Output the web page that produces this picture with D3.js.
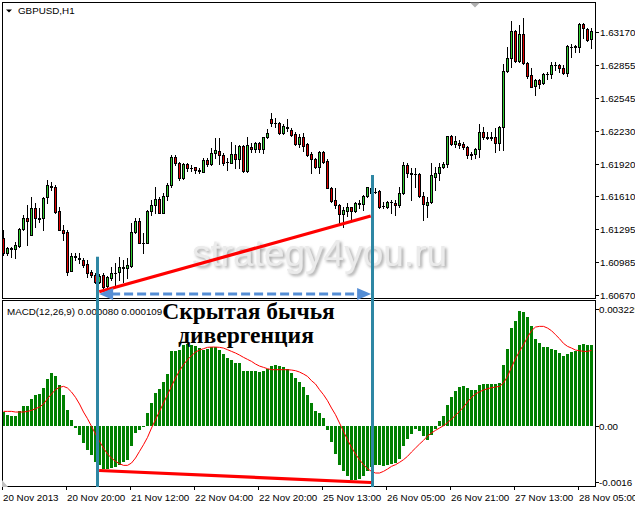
<!DOCTYPE html>
<html><head><meta charset="utf-8">
<script src="https://cdn.jsdelivr.net/npm/d3@7"></script>
<style>html,body{margin:0;padding:0;background:#fff;}svg{display:block;}</style>
</head><body><div id="chart"></div>
<script>
// ---- DATA (GBPUSD H1, 148 bars) ----
const opens = [1.61209,1.61066,1.61104,1.61104,1.61136,1.61294,1.61399,1.61241,1.61494,1.61399,1.61399,1.61605,1.61707,1.61700,1.61472,1.61288,1.61266,1.60901,1.61041,1.61019,
1.61003,1.60965,1.60892,1.60860,1.60797,1.60857,1.60756,1.60829,1.60882,1.60892,1.60933,1.60924,1.60946,1.61266,1.61377,1.61168,1.61161,1.61472,1.61526,1.61580,
1.61453,1.61611,1.61713,1.61979,1.61922,1.61780,1.61913,1.61881,1.61884,1.61846,1.61843,1.61954,1.61916,1.62024,1.62043,1.62001,1.61938,1.61928,1.62011,1.61960,
1.62087,1.61852,1.62081,1.62055,1.62112,1.62055,1.62169,1.62341,1.62309,1.62309,1.62207,1.62265,1.62239,1.62198,1.62103,1.62176,1.62103,1.62011,1.61960,1.61884,
1.62033,1.61944,1.61691,1.61573,1.61526,1.61437,1.61472,1.61504,1.61472,1.61542,1.61535,1.61611,1.61637,1.61653,1.61659,1.61516,1.61510,1.61551,1.61548,1.61526,
1.61637,1.61906,1.61827,1.61821,1.61821,1.61611,1.61526,1.61551,1.61795,1.61833,1.61890,1.61913,1.62182,1.62106,1.62119,1.62106,1.62081,1.62008,1.62008,1.62055,
1.62220,1.62169,1.62169,1.62169,1.62119,1.62265,1.62800,1.62921,1.63181,1.62899,1.63152,1.62873,1.62762,1.62658,1.62715,1.62683,1.62772,1.62772,1.62857,1.62857,
1.62826,1.62784,1.63032,1.63032,1.63032,1.63247,1.63196,1.63101];
const highs = [1.61288,1.61130,1.61130,1.61177,1.61304,1.61431,1.61526,1.61605,1.61542,1.61494,1.61605,1.61764,1.61748,1.61716,1.61510,1.61336,1.61288,1.61066,1.61066,1.61066,
1.61019,1.61003,1.60908,1.60876,1.60870,1.60876,1.60851,1.60939,1.60971,1.61035,1.61003,1.61019,1.61352,1.61399,1.61399,1.61256,1.61478,1.61573,1.61700,1.61605,
1.61637,1.61732,1.62001,1.62001,1.61938,1.61922,1.61922,1.61906,1.61890,1.61875,1.61970,1.61970,1.62065,1.62160,1.62160,1.62017,1.61970,1.62128,1.62096,1.62096,
1.62096,1.62176,1.62112,1.62128,1.62128,1.62176,1.62245,1.62398,1.62350,1.62318,1.62296,1.62341,1.62255,1.62223,1.62201,1.62214,1.62112,1.62033,1.61970,1.62036,
1.62043,1.61960,1.61700,1.61684,1.61535,1.61510,1.61542,1.61510,1.61558,1.61573,1.61621,1.61700,1.61700,1.61684,1.61669,1.61558,1.61567,1.61573,1.61573,1.61694,
1.61938,1.61922,1.61875,1.61875,1.61833,1.61653,1.61605,1.61922,1.61890,1.61922,1.61938,1.62185,1.62192,1.62182,1.62144,1.62128,1.62087,1.62033,1.62065,1.62296,
1.62265,1.62223,1.62223,1.62255,1.62277,1.62867,1.63032,1.63279,1.63190,1.63238,1.63304,1.62889,1.62826,1.62721,1.62721,1.62778,1.62794,1.62889,1.62889,1.62864,
1.62857,1.63048,1.63057,1.63048,1.63260,1.63260,1.63206,1.63206];
const lows = [1.61050,1.61050,1.61035,1.61019,1.61130,1.61288,1.61146,1.61241,1.61320,1.61367,1.61288,1.61542,1.61669,1.61447,1.61288,1.61193,1.60860,1.60901,1.61003,1.60971,
1.60939,1.60844,1.60844,1.60781,1.60781,1.60733,1.60749,1.60813,1.60749,1.60813,1.60797,1.60829,1.60939,1.61256,1.61161,1.61066,1.61161,1.61431,1.61447,1.61447,
1.61447,1.61573,1.61700,1.61906,1.61764,1.61770,1.61852,1.61852,1.61827,1.61827,1.61843,1.61897,1.61906,1.61970,1.61916,1.61906,1.61859,1.61922,1.61875,1.61875,
1.61843,1.61843,1.62033,1.62033,1.62033,1.62024,1.62160,1.62277,1.62265,1.62201,1.62201,1.62233,1.62182,1.62097,1.62081,1.62043,1.61995,1.61833,1.61875,1.61833,
1.61922,1.61684,1.61558,1.61494,1.61352,1.61320,1.61421,1.61383,1.61463,1.61494,1.61478,1.61605,1.61621,1.61637,1.61494,1.61494,1.61494,1.61447,1.61431,1.61510,
1.61630,1.61795,1.61573,1.61700,1.61605,1.61383,1.61409,1.61542,1.61669,1.61764,1.61875,1.61890,1.62097,1.62081,1.62065,1.62055,1.61970,1.61960,1.61970,1.61986,
1.62150,1.62150,1.62144,1.62033,1.62049,1.62049,1.62794,1.62841,1.62889,1.62889,1.62867,1.62731,1.62645,1.62572,1.62635,1.62677,1.62721,1.62731,1.62810,1.62794,
1.62772,1.62753,1.62930,1.62984,1.62984,1.63111,1.63089,1.63016];
const closes = [1.61066,1.61114,1.61114,1.61146,1.61294,1.61399,1.61377,1.61494,1.61399,1.61396,1.61589,1.61716,1.61700,1.61463,1.61288,1.61256,1.60892,1.61041,1.61035,1.61009,
1.60955,1.60882,1.60860,1.60797,1.60851,1.60749,1.60838,1.60876,1.60880,1.60939,1.60930,1.60955,1.61266,1.61377,1.61168,1.61165,1.61472,1.61526,1.61580,1.61453,
1.61611,1.61716,1.61979,1.61922,1.61780,1.61916,1.61875,1.61878,1.61859,1.61859,1.61954,1.61916,1.62024,1.62049,1.62001,1.61928,1.61935,1.62011,1.61960,1.62087,
1.61852,1.62093,1.62055,1.62119,1.62055,1.62169,1.62207,1.62309,1.62306,1.62207,1.62277,1.62262,1.62192,1.62103,1.62176,1.62087,1.62001,1.61960,1.61884,1.62033,
1.61938,1.61691,1.61567,1.61526,1.61437,1.61478,1.61504,1.61472,1.61542,1.61540,1.61611,1.61694,1.61684,1.61650,1.61504,1.61513,1.61558,1.61555,1.61526,1.61637,
1.61906,1.61833,1.61824,1.61818,1.61611,1.61535,1.61551,1.61811,1.61833,1.61890,1.61916,1.62182,1.62106,1.62131,1.62097,1.62074,1.61998,1.62005,1.62055,1.62220,
1.62169,1.62166,1.62166,1.62119,1.62271,1.62800,1.62921,1.63181,1.62899,1.63152,1.62873,1.62753,1.62651,1.62715,1.62677,1.62772,1.62769,1.62857,1.62854,1.62826,
1.62784,1.63038,1.63029,1.63035,1.63247,1.63206,1.63095,1.63181];

const macdHist = [0.000358,0.000287,0.000261,0.000243,0.000373,0.000522,0.000522,0.000697,0.000809,0.000827,0.000984,0.001227,0.001375,0.001287,0.001052,0.000809,0.000418,0.000157,-0.00006,-0.000235,
-0.000452,-0.000626,-0.000757,-0.000958,-0.001018,-0.00113,-0.001122,-0.001104,-0.001088,-0.001018,-0.000958,-0.000906,-0.00054,-0.000191,-0.000104,-0.000044,0.000331,0.000592,0.000853,0.000966,
0.001141,0.001357,0.001939,0.001958,0.001984,0.002114,0.002132,0.002096,0.00207,0.002028,0.001984,0.00201,0.002044,0.002044,0.001984,0.001871,0.001767,0.001704,0.001636,0.001636,
0.001436,0.001436,0.001436,0.001417,0.001402,0.001436,0.001488,0.001566,0.001592,0.001548,0.001522,0.001488,0.001375,0.001245,0.001141,0.001,0.000809,0.000592,0.000392,0.000331,
0.000201,-0.000104,-0.000436,-0.000739,-0.001018,-0.001193,-0.001305,-0.001409,-0.001409,-0.001383,-0.001323,-0.001175,-0.001088,-0.001018,-0.001036,-0.001062,-0.001036,-0.001,-0.000974,-0.000861,
-0.00054,-0.000339,-0.000209,-0.000078,-0.000149,-0.000279,-0.000365,-0.000235,-0.000078,0.000112,0.000243,0.000548,0.000739,0.000914,0.001,0.001026,0.000984,0.00094,0.00094,0.001052,
0.001088,0.001088,0.001088,0.001088,0.001115,0.001592,0.00201,0.00255,0.002723,0.003002,0.002968,0.002827,0.002592,0.002271,0.002159,0.002044,0.002044,0.00201,0.001984,0.001898,
0.001809,0.001871,0.001924,0.001958,0.002096,0.002132,0.002096,0.002096];
const macdSignal = [0.000374,0.000374,0.000374,0.000357,0.000357,0.000357,0.000374,0.0004,0.000444,0.000487,0.000566,0.000705,0.000827,0.00094,0.001,0.001027,0.000983,0.000879,0.00074,0.000566,
0.000357,0.000183,-0.000017,-0.000218,-0.000409,-0.000583,-0.00074,-0.000844,-0.000931,-0.000992,-0.001035,-0.001035,-0.000974,-0.000844,-0.00067,-0.000496,-0.000305,-0.000061,0.000157,0.000374,
0.000592,0.000809,0.001027,0.001244,0.001436,0.001592,0.001723,0.001827,0.001923,0.001975,0.00201,0.002045,0.002053,0.002053,0.002045,0.002027,0.001984,0.00194,0.001897,0.001844,
0.001784,0.001731,0.001679,0.00161,0.001557,0.001523,0.001488,0.001462,0.001462,0.001462,0.001462,0.001462,0.001453,0.001436,0.001401,0.001349,0.001288,0.001175,0.001088,0.00094,
0.000809,0.000653,0.000461,0.000287,0.00007,-0.000148,-0.000365,-0.000566,-0.00074,-0.000887,-0.001018,-0.001122,-0.001192,-0.001235,-0.001235,-0.001192,-0.001131,-0.001061,-0.001018,-0.000957,
-0.000887,-0.0008,-0.000687,-0.000583,-0.000479,-0.000383,-0.00027,-0.000191,-0.000122,-0.000061,0,0.000078,0.000174,0.00027,0.000374,0.000487,0.000618,0.00074,0.000827,0.000887,
0.000931,0.000966,0.000992,0.001009,0.001027,0.001114,0.001288,0.001523,0.001749,0.00194,0.002114,0.002306,0.00248,0.002575,0.002593,0.002593,0.002549,0.00248,0.002375,0.002271,
0.002149,0.002071,0.002027,0.001975,0.001958,0.00194,0.00194,0.001966];

const priceTicks = [1.63170,1.62855,1.62545,1.62230,1.61920,1.61610,1.61295,1.60985,1.60670];
const priceTickLabels = ["1.63170","1.62855","1.62545","1.62230","1.61920","1.61610","1.61295","1.60985","1.60670"];
const macdTicks = [0.003229, 0, -0.0016];
const macdTickLabels = ["0.003229","0.00","-0.0016"];
const timeLabels = ["20 Nov 2013","20 Nov 20:00","21 Nov 12:00","22 Nov 04:00","22 Nov 20:00","25 Nov 13:00","26 Nov 05:00","26 Nov 21:00","27 Nov 13:00","28 Nov 05:00"];
const timeLabelBars = [0,16,32,48,64,80,96,112,128,144];

// annotation anchors (bar index, value)
const divBars = [23.5, 92.25];
const divTopPrices = [1.61034, 1.61811];
const priceTrend = [[23.95, 1.60701],[91.8, 1.61421]];
const arrowSpan = [[23.9, 1.60680],[91.9, 1.60680]];
const macdTrend = [[23.9, -0.001169],[91.9, -0.001483]];

// ---- CHART ----
const W = 635, H = 506;
const P = {left:2.5, right:595.5, top:2.5, bottom:298.5};
const M = {top:300.5, bottom:486.5};
const svg = d3.select("#chart").append("svg").attr("width",W).attr("height",H)
  .style("font-family","'Liberation Sans', Arial, sans-serif");
svg.append("rect").attr("width",W).attr("height",H).attr("fill","#fff");

const x = d3.scaleLinear().domain([0,147]).range([3.5,591.5]);
const y = d3.scaleLinear().domain([1.6067,1.6317]).range([295,32.1]);
const yM = d3.scaleLinear().domain([-0.0016,0.003229]).range([487,302]);

const defs = svg.append("defs");
defs.append("clipPath").attr("id","cp").append("rect").attr("x",3).attr("y",3).attr("width",592).attr("height",295);
defs.append("clipPath").attr("id","cm").append("rect").attr("x",3).attr("y",301).attr("width",592).attr("height",185);
const f = defs.append("filter").attr("id","wm").attr("x","-10%").attr("y","-30%").attr("width","130%").attr("height","170%");
f.append("feGaussianBlur").attr("in","SourceAlpha").attr("stdDeviation",1.6).attr("result","b");
f.append("feOffset").attr("in","b").attr("dx",2).attr("dy",2).attr("result","o");
f.append("feFlood").attr("flood-color","#a8a8a8").attr("result","c");
f.append("feComposite").attr("in","c").attr("in2","o").attr("operator","in").attr("result","s");
const fm = f.append("feMerge");
fm.append("feMergeNode").attr("in","s");
fm.append("feMergeNode").attr("in","SourceGraphic");

// watermark
svg.append("text").attr("x",192).attr("y",266).attr("font-size",37)
  .attr("fill","#ebebeb").attr("filter","url(#wm)").text("strategy4you.ru");

// candles
const cg = svg.append("g").attr("clip-path","url(#cp)").attr("shape-rendering","crispEdges");
const idx = d3.range(opens.length);
cg.selectAll("line.wick").data(idx).join("line").attr("class","wick")
  .attr("x1",i=>x(i)).attr("x2",i=>x(i))
  .attr("y1",i=>Math.round(y(highs[i]))).attr("y2",i=>Math.round(y(lows[i]))+1)
  .attr("stroke","#000").attr("stroke-width",1);
idx.forEach(i=>{
  const bt = Math.round(y(Math.max(opens[i],closes[i])));
  const bb = Math.round(y(Math.min(opens[i],closes[i])));
  if (bb-bt < 1) {
    cg.append("line").attr("x1",x(i)-1.5).attr("x2",x(i)+1.5).attr("y1",bt+0.5).attr("y2",bt+0.5)
      .attr("stroke","#000").attr("stroke-width",1);
  } else {
    cg.append("rect").attr("x",x(i)-1).attr("y",bt+0.5).attr("width",2).attr("height",bb-bt)
      .attr("fill", closes[i]>=opens[i] ? "#32cd32" : "#e00000")
      .attr("stroke","#000").attr("stroke-width",1);
  }
});

// MACD histogram + signal
const mg = svg.append("g").attr("clip-path","url(#cm)");
const z = Math.round(yM(0));
mg.selectAll("rect").data(idx).join("rect")
  .attr("shape-rendering","crispEdges")
  .attr("x",i=>x(i)-1.5).attr("width",3)
  .attr("y",i=>Math.min(Math.round(yM(macdHist[i])),z))
  .attr("height",i=>Math.abs(Math.round(yM(macdHist[i]))-z))
  .attr("fill","#008000");
mg.append("path").datum(macdSignal)
  .attr("d",d3.line().x((d,i)=>x(i)).y(d=>yM(d)))
  .attr("fill","none").attr("stroke","#ff0000").attr("stroke-width",1);

// frames
svg.append("rect").attr("x",P.left).attr("y",P.top).attr("width",P.right-P.left).attr("height",P.bottom-P.top)
  .attr("fill","none").attr("stroke","#000").attr("shape-rendering","crispEdges");
svg.append("rect").attr("x",P.left).attr("y",M.top).attr("width",P.right-P.left).attr("height",M.bottom-M.top)
  .attr("fill","none").attr("stroke","#000").attr("shape-rendering","crispEdges");

// right axes
const ax = svg.append("g").attr("font-size",9.8).attr("fill","#000");
priceTicks.forEach((v,k)=>{
  const yy = Math.round(y(v))+0.5;
  ax.append("line").attr("x1",596).attr("x2",599).attr("y1",yy).attr("y2",yy).attr("stroke","#000");
  ax.append("text").attr("x",600).attr("y",yy+3.5).text(priceTickLabels[k]);
});
macdTicks.forEach((v,k)=>{
  const yy = Math.round(yM(v))+0.5;
  const ty = k===0 ? yy+10 : (k===2 ? yy-2 : yy+3.5);
  ax.append("line").attr("x1",596).attr("x2",599).attr("y1",k===0?yy+7:(k===2?yy-5:yy)).attr("y2",k===0?yy+7:(k===2?yy-5:yy)).attr("stroke","#000");
  ax.append("text").attr("x",599).attr("y",ty).text(macdTickLabels[k]);
});
// time axis
timeLabels.forEach((t,k)=>{
  const xx = x(timeLabelBars[k])-1;
  ax.append("line").attr("x1",xx).attr("x2",xx).attr("y1",487).attr("y2",490).attr("stroke","#000").attr("shape-rendering","crispEdges");
  ax.append("text").attr("x",xx+0.5).attr("y",500.5).text(t);
});

// labels
svg.append("path").attr("d","M6,9.5 L12,9.5 L9,12.5 Z").attr("fill","#000");
svg.append("text").attr("x",18).attr("y",14).attr("font-size",9.8).text("GBPUSD,H1");
svg.append("text").attr("x",7).attr("y",314.5).attr("font-size",9.8).text("MACD(12,26,9) 0.000080 0.000109");
svg.append("path").attr("d","M470,2.5 L480,2.5 L475,7.5 Z").attr("fill","#b0b0b0");
svg.append("path").attr("d","M2,480 L2,487 L8,487 Z").attr("fill","#c0c0c0");

// annotations
const ann = svg.append("g");
divBars.forEach((b,k)=>{
  ann.append("line").attr("x1",x(b)).attr("x2",x(b)).attr("y1",y(divTopPrices[k])).attr("y2",487)
    .attr("stroke","#2e87a4").attr("stroke-width",3);
});
ann.append("line").attr("x1",x(priceTrend[0][0])).attr("y1",y(priceTrend[0][1]))
  .attr("x2",x(priceTrend[1][0])).attr("y2",y(priceTrend[1][1])).attr("stroke","#ff0000").attr("stroke-width",3.2);
ann.append("line").attr("x1",x(macdTrend[0][0])).attr("y1",yM(macdTrend[0][1]))
  .attr("x2",x(macdTrend[1][0])).attr("y2",yM(macdTrend[1][1])).attr("stroke","#ff0000").attr("stroke-width",3.2);
const ax0 = x(arrowSpan[0][0]), ax1 = x(arrowSpan[1][0]), ay = y(arrowSpan[0][1]);
ann.append("line").attr("x1",ax0+12).attr("x2",ax1-12).attr("y1",ay).attr("y2",ay)
  .attr("stroke","#558ed5").attr("stroke-width",3).attr("stroke-dasharray","9,4");
ann.append("path").attr("d",`M${ax0},${ay} L${ax0+14},${ay-6} L${ax0+14},${ay+6} Z`).attr("fill","#558ed5");
ann.append("path").attr("d",`M${ax1},${ay} L${ax1-14},${ay-6} L${ax1-14},${ay+6} Z`).attr("fill","#558ed5");

// title
const tt = svg.append("g").attr("font-family","'Liberation Serif','Times New Roman',serif")
  .attr("font-weight","bold").attr("font-size",23.5).attr("text-anchor","middle").attr("fill","#000");
tt.append("text").attr("x",248.5).attr("y",318.5).text("Скрытая бычья");
tt.append("text").attr("x",246).attr("y",343).text("дивергенция");
</script>
</body></html>
